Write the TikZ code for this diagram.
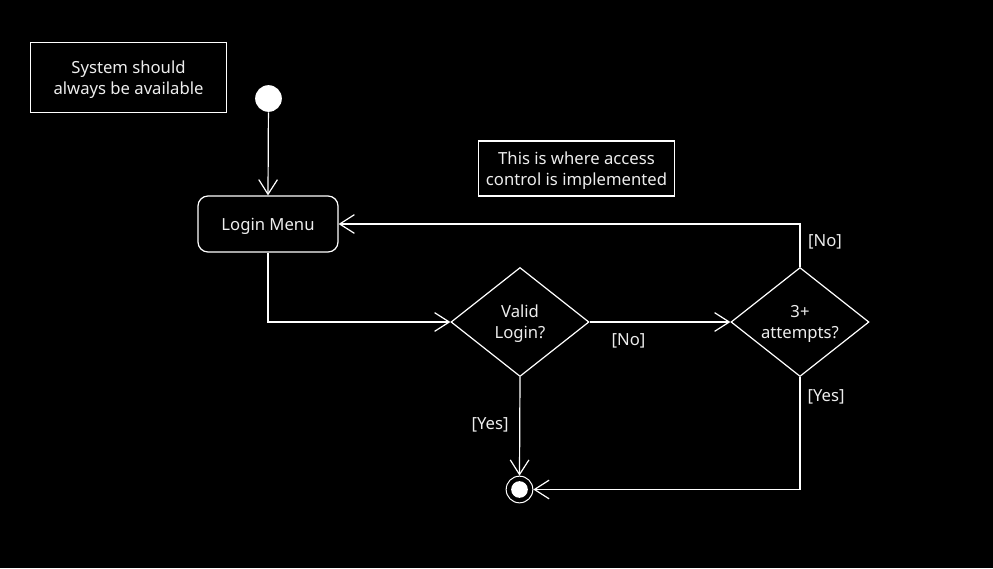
\documentclass[tikz,border=0pt]{standalone}
\usepackage{fontspec}
\setmainfont{Noto Sans}
\usepackage{xcolor}
\usepackage{tikz}
\usetikzlibrary{
    positioning,
    arrows.meta,
    shapes,
    shapes.geometric,
    calc
}
\definecolor{txtgray}{HTML}{EDEDED}

\begin{document}
\begin{tikzpicture}[x=0.75pt, y=-0.75pt,
  font=\fontsize{12.5pt}{15.75pt}\selectfont, text=txtgray,
  line width=0.9pt,
  every node/.style={text depth=0pt},
  note/.style={draw=white, align=center, inner sep=0pt},
  action/.style={draw=white, rounded corners=7.5pt, minimum width=105pt,
                 minimum height=42pt, align=center, inner sep=0pt},
  decision/.style={draw=white, diamond, aspect=1.27, minimum width=103.5pt,
                   minimum height=81.75pt, align=center, inner sep=0pt},
  guard/.style={inner sep=1pt},
  flow/.style={-{Straight Barb[length=11pt, width=14pt]}, draw=white}]

  % Background and frame
  \fill[black] (0,0) rectangle (993,568);

  % Notes
  \node[note, minimum width=147pt, minimum height=52.5pt] (Avail) at (128.5,77.5)
    {System should\\always be available};
  \node[note, minimum width=147pt, minimum height=41.25pt] (Access) at (576.5,168.5)
    {This is where access\\control is implemented};

  % Start and end
  \node[circle, fill=white, minimum size=20pt, inner sep=0pt] (Start) at (268.5,98.5) {};
  \node[circle, draw=white, line width=0.75pt, minimum size=20pt, inner sep=0pt] (End) at (519.5,489.5) {};
  \node[circle, fill=white, minimum size=12.5pt, inner sep=0pt] (EndDot) at (End) {};

  % Activity and decisions
  \node[action] (Login) at (268,224) {Login Menu};
  \node[decision] (Valid) at (520,322) {Valid\\Login?};
  \node[decision] (Tries) at (800,322) {3+\\attempts?};

  % Flows
  \draw[flow] (Start) -- (Login.north);
  \draw[flow] (Login.south) |- (Valid.west);
  \draw[flow] (Valid.east) -- (Tries.west);
  \draw[flow] (Tries.north) |- (Login.east);
  \draw[flow] (Valid.south) -- (End.north);
  \draw[flow] (Tries.south) |- (End.east);

  % Guards
  \node[guard] (GValidNo)  at (628.5,340) {[No]};
  \node[guard] (GTriesNo)  at (825,241) {[No]};
  \node[guard] (GTriesYes) at (826,396) {[Yes]};
  \node[guard] (GValidYes) at (490,424) {[Yes]};
\end{tikzpicture}
\end{document}
